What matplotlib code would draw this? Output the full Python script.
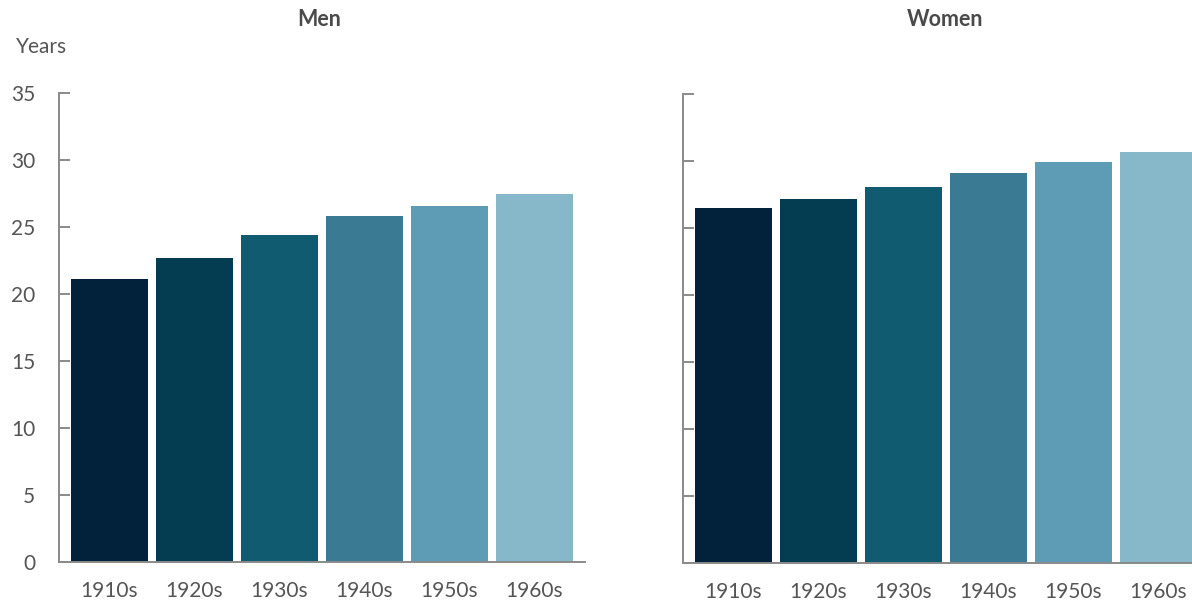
import matplotlib
matplotlib.use("Agg")
import matplotlib.pyplot as plt

decades = ["1910s", "1920s", "1930s", "1940s", "1950s", "1960s"]
men = [21.1, 22.7, 24.4, 25.8, 26.6, 27.5]
women = [26.5, 27.2, 28.05, 29.1, 29.95, 30.7]
colors = ["#02213a", "#043c52", "#115b71", "#3b7a93", "#5e9cb5", "#87b8c9"]
yticks = [0, 5, 10, 15, 20, 25, 30, 35]

plt.rcParams['font.family'] = ['Lato', 'DejaVu Sans']
txt = "#555555"
spine = "#8a8a8a"

fig = plt.figure(figsize=(11.92, 6.03), dpi=100)
ax1 = fig.add_axes([59/1192, 1-562/603, 526/1192, 469/603])
ax2 = fig.add_axes([683/1192, 1-563/603, 526/1192, 469/603])

for ax, vals, title, show, tx in [(ax1, men, "Men", True, 319), (ax2, women, "Women", False, 945)]:
    x = range(len(decades))
    ax.bar(x, vals, width=0.905, color=colors)
    ax.set_xlim(-0.595, 5.595)
    ax.set_ylim(0, 35)
    ax.set_yticks(yticks)
    ax.set_xticks(list(x))
    ax.set_xticklabels(decades)
    for s in ["top", "right"]:
        ax.spines[s].set_visible(False)
    for s in ["left", "bottom"]:
        ax.spines[s].set_color(spine)
        ax.spines[s].set_linewidth(1.4)
    ax.tick_params(axis="y", direction="in", length=8, width=1.4, color=spine,
                   labelsize=15, labelcolor=txt, pad=17, labelleft=show)
    ax.tick_params(axis="x", length=0, labelsize=15, labelcolor=txt, pad=14)
    fig.text(tx/1192, 1-20/603, title, fontsize=15.5, fontweight="bold",
             color="#4a4a4a", ha="center", va="center")

fig.text(16/1192, 1-47/603, "Years", fontsize=15, color=txt, va="center", ha="left")

fig.savefig("out.png", dpi=100)
